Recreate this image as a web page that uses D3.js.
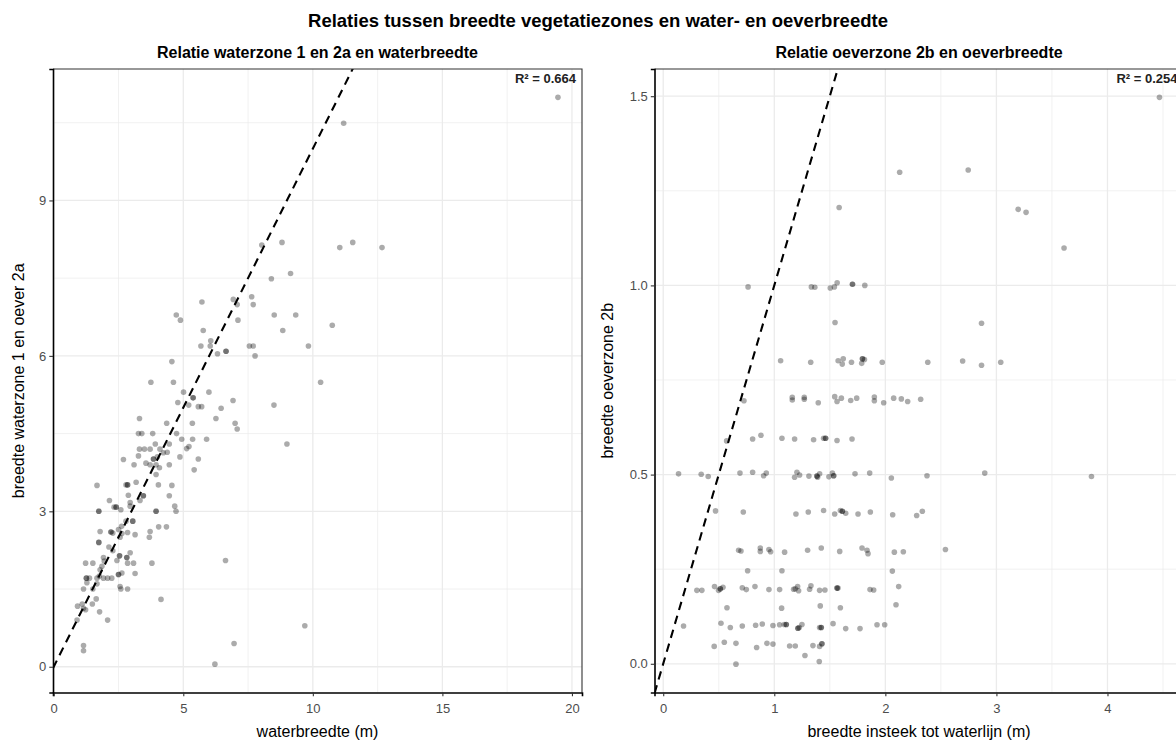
<!DOCTYPE html>
<html>
<head>
<meta charset="utf-8">
<script src="https://cdn.jsdelivr.net/npm/d3@7"></script>
<style>
  html, body { margin: 0; padding: 0; background: #fff; }
  svg { display: block; font-family: "Liberation Sans", Arial, sans-serif; }
</style>
</head>
<body>
<svg id="chart" width="1176" height="741"></svg>
<script>
// ---------- DATA ----------
const mainTitle = "Relaties tussen breedte vegetatiezones en water- en oeverbreedte";
const leftTitle = "Relatie waterzone 1 en 2a en waterbreedte";
const rightTitle = "Relatie oeverzone 2b en oeverbreedte";
const leftXLabel = "waterbreedte (m)";
const leftYLabel = "breedte waterzone 1 en oever 2a";
const rightXLabel = "breedte insteek tot waterlijn (m)";
const rightYLabel = "breedte oeverzone 2b";
const leftR2 = "R\u00B2 = 0.664";
const rightR2 = "R\u00B2 = 0.254";

const leftXTicks = [0, 5, 10, 15, 20];
const leftXMinor = [2.5, 7.5, 12.5, 17.5];
const leftYTicks = [0, 3, 6, 9];
const leftYMinor = [1.5, 4.5, 7.5, 10.5];
const rightXTicks = [0, 1, 2, 3, 4];
const rightXMinor = [0.5, 1.5, 2.5, 3.5, 4.5];
const rightYTicks = [0, 0.5, 1.0, 1.5];
const rightYMinor = [0.25, 0.75, 1.25];

// waterbreedte (m) vs breedte waterzone 1 en oever 2a
const leftX = [
 19.46,11.19,8.03,8.81,11.04,11.54,12.67,8.40,9.14,6.93,5.72,7.08,7.64,7.70,4.73,4.89,7.11,8.51,9.34,10.75,
 5.77,8.84,6.06,5.68,6.04,7.55,7.70,9.83,6.32,6.65,6.65,7.77,4.56,3.75,4.62,10.30,
 5.01,5.38,5.38,5.99,4.79,5.21,5.58,5.71,6.46,6.92,8.50,3.31,4.36,5.35,6.26,7.00,7.08,3.27,3.40,3.82,4.74,
 4.94,5.36,5.90,3.92,4.46,5.22,5.13,9.00,
 3.31,3.50,3.72,4.10,2.69,3.10,3.27,3.85,3.85,4.00,4.23,4.38,3.56,3.72,3.95,4.08,3.95,4.46,4.87,5.58,5.42,
 1.67,2.79,2.85,2.85,3.18,4.04,4.56,2.15,2.88,2.95,3.33,3.46,3.46,4.46,1.74,1.74,2.33,2.41,2.41,2.59,2.95,
 3.95,3.95,4.67,4.72,2.79,3.05,3.05,2.62,1.79,2.21,2.21,2.28,2.50,2.63,2.85,3.14,3.72,3.69,4.05,4.35,
 1.74,1.74,2.13,2.56,2.28,2.54,2.54,2.44,1.92,1.95,2.82,2.82,2.95,2.85,3.08,3.79,1.23,1.51,1.86,1.79,
 1.26,1.26,1.38,1.67,1.76,1.92,2.08,2.24,2.50,2.50,2.63,3.14,1.28,1.67,1.15,1.51,2.56,2.59,2.85,
 1.64,4.14,0.92,1.10,1.15,1.23,1.49,1.77,0.90,2.08,1.15,1.15,6.96,6.22,9.69,6.63
];
const leftY = [
 10.99,10.49,8.14,8.19,8.09,8.19,8.09,7.49,7.59,7.09,7.04,6.99,7.14,6.99,6.79,6.69,6.69,6.79,6.79,6.59,
 6.49,6.49,6.29,6.19,6.19,6.19,6.19,6.19,6.04,6.09,6.09,6.00,5.89,5.49,5.49,5.49,
 5.30,5.19,5.19,5.30,5.10,5.05,5.02,5.02,4.99,5.14,5.05,4.79,4.70,4.70,4.79,4.70,4.59,4.50,4.50,4.50,4.50,
 4.39,4.39,4.39,4.30,4.30,4.25,4.21,4.30,
 4.20,4.20,4.20,4.20,4.00,3.90,4.07,4.01,4.01,4.05,4.13,4.14,3.93,3.90,3.90,3.84,3.71,3.90,4.05,4.01,3.80,
 3.50,3.51,3.51,3.51,3.56,3.51,3.50,3.21,3.31,3.17,3.21,3.30,3.30,3.30,3.00,3.00,3.08,3.08,3.08,3.03,3.10,
 3.00,3.00,3.10,3.00,2.81,2.81,2.81,2.71,2.61,2.60,2.60,2.58,2.65,2.57,2.59,2.55,2.61,2.50,2.70,2.70,
 2.40,2.40,2.31,2.50,2.24,2.14,2.14,2.05,2.11,2.04,2.11,2.11,2.20,2.00,2.00,2.00,2.00,2.00,1.94,1.87,
 1.71,1.71,1.71,1.71,1.75,1.71,1.71,1.71,1.78,1.78,1.81,1.80,1.62,1.60,1.50,1.50,1.55,1.50,1.50,
 1.31,1.30,1.17,1.21,1.13,1.10,1.21,1.06,0.90,0.90,0.41,0.31,0.45,0.05,0.79,2.05
];

// breedte insteek tot waterlijn (m) vs breedte oeverzone 2b
const rightX = [
 4.468,2.129,2.746,1.584,3.196,3.267,3.609,
 0.764,1.334,1.365,1.504,1.541,1.566,1.704,1.704,1.815,
 1.547,2.866,
 1.057,1.328,1.575,1.612,1.621,1.695,1.787,1.794,1.794,1.812,1.972,2.382,2.696,2.866,3.039,
 0.727,1.162,1.162,1.270,1.270,1.396,1.544,1.565,1.604,1.688,1.742,1.901,1.901,1.985,2.075,2.144,2.201,2.318,
 0.571,0.805,0.880,1.069,1.183,1.354,1.444,1.462,1.462,1.565,1.700,
 0.138,0.342,0.405,0.691,0.805,0.904,0.928,1.183,1.204,1.228,1.312,1.384,1.384,1.390,1.408,1.492,1.523,1.535,1.535,1.727,1.859,2.054,2.375,2.895,3.856,
 0.471,0.721,1.195,1.306,1.444,1.544,1.595,1.613,1.613,1.643,1.754,1.865,2.066,2.282,2.333,
 0.679,0.700,0.874,0.874,0.952,0.967,1.093,1.300,1.423,1.589,1.790,1.835,1.844,2.081,2.162,2.541,
 0.760,1.069,2.063,
 0.303,0.348,0.462,0.498,0.514,0.514,0.538,0.712,0.748,0.826,0.952,1.048,1.174,1.189,1.210,1.219,1.318,1.330,1.408,1.456,1.565,1.565,1.574,1.862,1.895,2.120,
 0.574,1.066,1.414,1.595,2.096,
 0.183,0.520,0.604,0.712,0.832,0.892,0.988,1.048,1.090,1.108,1.108,1.213,1.213,1.225,1.249,1.408,1.423,1.423,1.529,1.643,1.772,1.925,1.994,
 0.459,0.550,0.655,0.841,0.934,0.988,1.138,1.189,1.348,1.408,1.429,1.429,
 1.276,1.405,0.655
];
const rightY = [
 1.497,1.299,1.305,1.206,1.201,1.193,1.099,
 0.996,0.996,0.995,0.993,0.996,1.007,1.003,1.003,1.000,
 0.902,0.900,
 0.801,0.797,0.801,0.792,0.806,0.797,0.794,0.806,0.806,0.804,0.797,0.797,0.800,0.789,0.797,
 0.695,0.704,0.697,0.704,0.699,0.690,0.706,0.693,0.702,0.696,0.702,0.705,0.695,0.690,0.702,0.700,0.693,0.699,
 0.589,0.594,0.604,0.596,0.594,0.592,0.596,0.596,0.596,0.590,0.594,
 0.502,0.501,0.495,0.504,0.506,0.497,0.504,0.493,0.506,0.499,0.496,0.496,0.496,0.493,0.502,0.494,0.504,0.497,0.497,0.502,0.504,0.491,0.497,0.504,0.495,
 0.404,0.401,0.396,0.401,0.405,0.396,0.405,0.403,0.403,0.398,0.396,0.401,0.394,0.392,0.403,
 0.300,0.298,0.306,0.297,0.302,0.296,0.295,0.300,0.306,0.297,0.306,0.300,0.291,0.295,0.296,0.302,
 0.246,0.246,0.245,
 0.194,0.194,0.204,0.194,0.198,0.198,0.202,0.201,0.196,0.204,0.196,0.196,0.197,0.198,0.204,0.193,0.197,0.206,0.194,0.195,0.200,0.200,0.200,0.196,0.195,0.204,
 0.148,0.147,0.153,0.148,0.156,
 0.100,0.107,0.096,0.100,0.102,0.105,0.101,0.103,0.104,0.104,0.104,0.094,0.094,0.096,0.104,0.096,0.096,0.096,0.106,0.093,0.093,0.103,0.103,
 0.046,0.057,0.054,0.043,0.054,0.052,0.047,0.047,0.048,0.046,0.053,0.053,
 0.022,0.006,-0.001
];

// ---------- LAYOUT ----------
const svg = d3.select("#chart");
const FONT = '"Liberation Sans", Arial, sans-serif';

svg.append("text")
  .attr("x", 598).attr("y", 27)
  .attr("text-anchor", "middle")
  .attr("font-size", 18.5).attr("font-weight", "bold")
  .attr("fill", "#000")
  .text(mainTitle);

function expandDomain(vals) {
  const [lo, hi] = d3.extent(vals);
  const pad = (hi - lo) * 0.05;
  return [lo - pad, hi + pad];
}

function panel(cfg) {
  const {x0, x1, y0, y1, xs, ys, xTicks, xMinor, yTicks, yMinor, fmtY, title, xLabel, yLabel, yLabelX, r2, clipId} = cfg;
  const x = d3.scaleLinear().domain(expandDomain(xs)).range([x0, x1]);
  const y = d3.scaleLinear().domain(expandDomain(ys)).range([y1, y0]);
  const g = svg.append("g");

  g.append("clipPath").attr("id", clipId)
    .append("rect").attr("x", x0).attr("y", y0).attr("width", x1 - x0).attr("height", y1 - y0);

  // grid
  const grid = g.append("g");
  grid.selectAll(".vmin").data(xMinor).join("line")
    .attr("x1", d => x(d)).attr("x2", d => x(d)).attr("y1", y0).attr("y2", y1)
    .attr("stroke", "#ebebeb").attr("stroke-width", 0.7);
  grid.selectAll(".hmin").data(yMinor).join("line")
    .attr("y1", d => y(d)).attr("y2", d => y(d)).attr("x1", x0).attr("x2", x1)
    .attr("stroke", "#ebebeb").attr("stroke-width", 0.7);
  grid.selectAll(".vmaj").data(xTicks).join("line")
    .attr("x1", d => x(d)).attr("x2", d => x(d)).attr("y1", y0).attr("y2", y1)
    .attr("stroke", "#ebebeb").attr("stroke-width", 1.3);
  grid.selectAll(".hmaj").data(yTicks).join("line")
    .attr("y1", d => y(d)).attr("y2", d => y(d)).attr("x1", x0).attr("x2", x1)
    .attr("stroke", "#ebebeb").attr("stroke-width", 1.3);

  // points
  const pts = xs.map((v, i) => [v, ys[i]]);
  g.append("g").attr("clip-path", `url(#${clipId})`)
    .selectAll("circle").data(pts).join("circle")
    .attr("cx", d => x(d[0])).attr("cy", d => y(d[1])).attr("r", 2.8)
    .attr("fill", "#000").attr("fill-opacity", 0.33);

  // 1:1 dashed line
  const dom = x.domain();
  g.append("line").attr("clip-path", `url(#${clipId})`)
    .attr("x1", x(dom[0])).attr("y1", y(dom[0]))
    .attr("x2", x(dom[1])).attr("y2", y(dom[1]))
    .attr("stroke", "#000").attr("stroke-width", 2.1).attr("stroke-dasharray", "8.5,6");

  // border (top/right)
  g.append("path")
    .attr("d", `M${x0},${y0}H${x1}V${y1}`)
    .attr("fill", "none").attr("stroke", "#333").attr("stroke-width", 1.1);

  // axes
  const xAxis = g.append("g").attr("transform", `translate(0,${y1})`)
    .call(d3.axisBottom(x).tickValues(xTicks).tickSize(3.7).tickPadding(5).tickFormat(d3.format("d")));
  const yAxis = g.append("g").attr("transform", `translate(${x0},0)`)
    .call(d3.axisLeft(y).tickValues(yTicks).tickSize(3.7).tickPadding(3).tickFormat(fmtY));
  [xAxis, yAxis].forEach(a => {
    a.select(".domain").attr("stroke", "#000").attr("stroke-width", 1.6);
    a.selectAll(".tick line").attr("stroke", "#333").attr("stroke-width", 1.1);
    a.selectAll(".tick text").attr("fill", "#4d4d4d").attr("font-size", 13).attr("font-family", FONT);
  });
  xAxis.selectAll(".tick text").attr("dy", "0.9em");

  // R2 label
  g.append("text").attr("x", x1 - 6).attr("y", y0 + 14)
    .attr("text-anchor", "end").attr("font-size", 13).attr("font-weight", "bold")
    .attr("fill", "#222").text(r2);

  // subtitle
  g.append("text").attr("x", (x0 + x1) / 2).attr("y", y0 - 11.5)
    .attr("text-anchor", "middle").attr("font-size", 16).attr("font-weight", "bold")
    .attr("fill", "#000").text(title);

  // axis titles
  g.append("text").attr("x", (x0 + x1) / 2).attr("y", 737)
    .attr("text-anchor", "middle").attr("font-size", 16).attr("fill", "#000").text(xLabel);
  g.append("text")
    .attr("transform", `translate(${yLabelX},${(y0 + y1) / 2}) rotate(-90)`)
    .attr("text-anchor", "middle").attr("font-size", 16).attr("fill", "#000").text(yLabel);
}

panel({
  x0: 53, x1: 582, y0: 69, y1: 692.5,
  xs: leftX, ys: leftY,
  xTicks: leftXTicks, xMinor: leftXMinor, yTicks: leftYTicks, yMinor: leftYMinor,
  fmtY: d3.format("d"),
  title: leftTitle, xLabel: leftXLabel, yLabel: leftYLabel, yLabelX: 24,
  r2: leftR2, clipId: "clipL"
});
panel({
  x0: 654.5, x1: 1183.5, y0: 69, y1: 692.5,
  xs: rightX, ys: rightY,
  xTicks: rightXTicks, xMinor: rightXMinor, yTicks: rightYTicks, yMinor: rightYMinor,
  fmtY: d3.format(".1f"),
  title: rightTitle, xLabel: rightXLabel, yLabel: rightYLabel, yLabelX: 613,
  r2: rightR2, clipId: "clipR"
});
</script>
</body>
</html>
